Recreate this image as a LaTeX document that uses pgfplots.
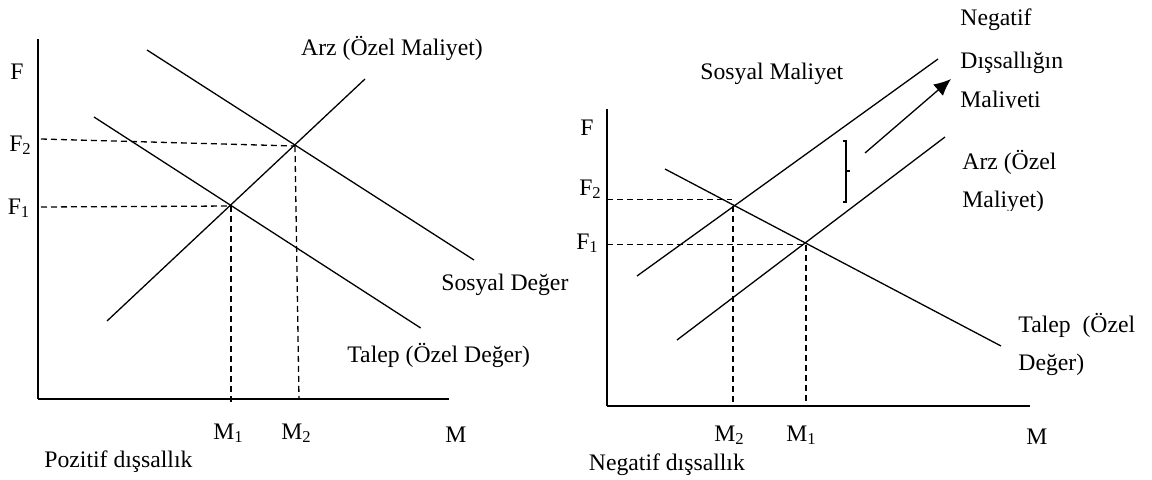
\documentclass[border=0pt]{standalone}
\usepackage{fontspec}
\setmainfont{Liberation Serif}
\usepackage{pgfplots}
\pgfplotsset{compat=1.18}
\usetikzlibrary{arrows.meta}

% subscript as set in the source (small digit, a little lowered)
\newcommand{\sub}[1]{\raisebox{-0.3ex}{\fontsize{8.3}{9}\selectfont #1}}

\pgfplotsset{
  panel/.style={x=0.5pt, y=0.5pt, xmin=0, ymin=0, anchor=south west,
    axis x line=bottom, axis y line=left,
    axis line style={-, line width=0.7pt},
    xtick=\empty, ytick=\empty, clip=false},
  curve/.style={black, line width=0.65pt, no marks},
  guide/.style={black, line width=0.65pt, dash pattern=on 3pt off 2pt, no marks},
}
\tikzset{lbl/.style={font=\fontsize{11.85}{14}\selectfont, inner sep=0pt}}

\begin{document}
\begin{tikzpicture}
\path[use as bounding box] (0,0) rectangle (576pt,239.5pt);

% ---- left: positive externality
\begin{axis}[panel, at={(19pt,40pt)}, xmax=411, ymax=360]
  \addplot[curve] coordinates {(69,78) (327,320)};      % Arz
  \addplot[curve] coordinates {(56,282) (382.7,71)};    % Talep
  \addplot[curve] coordinates {(109,349) (436,139)};    % Sosyal Deger
  \addplot[guide] coordinates {(3,260) (257,253)};
  \addplot[guide] coordinates {(3,192) (193,193)};
  \addplot[guide] coordinates {(193,193) (193,-3)};
  \addplot[guide] coordinates {(257,253) (261,0)};
  \node[lbl] at (axis cs:-21,327) {F};
  \node[lbl] at (axis cs:-18,254) {F\sub{2}};
  \node[lbl] at (axis cs:-19.5,191) {F\sub{1}};
  \node[lbl] at (axis cs:190,-34) {M\sub{1}};
  \node[lbl] at (axis cs:258,-34) {M\sub{2}};
  \node[lbl] at (axis cs:418,-36) {M};
  \node[lbl, anchor=west] at (axis cs:6,-63) {Pozitif dışsallık};
  \node[lbl] at (axis cs:354,351) {Arz (Özel Maliyet)};
  \node[lbl, anchor=west] at (axis cs:403,114) {Sosyal Değer};
  \node[lbl, anchor=west] at (axis cs:309,44) {Talep (Özel Değer)};
\end{axis}

% ---- right: negative externality
\begin{axis}[panel, at={(303.5pt,36.5pt)}, xmax=423, ymax=297]
  \addplot[curve] coordinates {(30,130) (331,347)};     % Sosyal Maliyet
  \addplot[curve] coordinates {(70,66) (338,269)};      % Arz
  \addplot[curve] coordinates {(58,237) (394,60)};      % Talep
  \addplot[guide] coordinates {(0,206.5) (125,206.5)};
  \addplot[guide] coordinates {(126,200) (126,0)};
  \addplot[guide] coordinates {(0,161.5) (199,161.5)};
  \addplot[guide] coordinates {(199,161.5) (199,0)};
  \addplot[curve] coordinates {(236,265) (239,265) (239,204) (236,204)};
  \addplot[curve] coordinates {(239,235) (243,235)};
  \addplot[curve, -{Latex[length=8.5pt, width=7.5pt]}] coordinates {(258,253) (344,327)};
  \node[lbl] at (axis cs:-20,278) {F};
  \node[lbl] at (axis cs:-17,217) {F\sub{2}};
  \node[lbl] at (axis cs:-20,163) {F\sub{1}};
  \node[lbl] at (axis cs:122,-29) {M\sub{2}};
  \node[lbl] at (axis cs:194,-29) {M\sub{1}};
  \node[lbl] at (axis cs:430,-31) {M};
  \node[lbl, anchor=west] at (axis cs:-18.5,-59) {Negatif dışsallık};
  \node[lbl, anchor=west] at (axis cs:93,332) {Sosyal Maliyet};
  \node[lbl, anchor=west] at (axis cs:353,386) {Negatif};
  \node[lbl, anchor=west] at (axis cs:353,343) {Dışsallığın};
  \begin{scope}
    \clip (axis cs:340,299) rectangle (axis cs:460,330);
    \node[lbl, anchor=west] at (axis cs:353,304) {Maliyeti};
  \end{scope}
  \node[lbl, anchor=west] at (axis cs:355,244) {Arz (Özel};
  \begin{scope}
    \clip (axis cs:340,196) rectangle (axis cs:460,225);
    \node[lbl, anchor=west] at (axis cs:355,204) {Maliyet)};
  \end{scope}
  \node[lbl, anchor=west] at (axis cs:411,81) {Talep\ \ (Özel};
  \node[lbl, anchor=west] at (axis cs:411,41) {Değer)};
\end{axis}
\end{tikzpicture}
\end{document}
